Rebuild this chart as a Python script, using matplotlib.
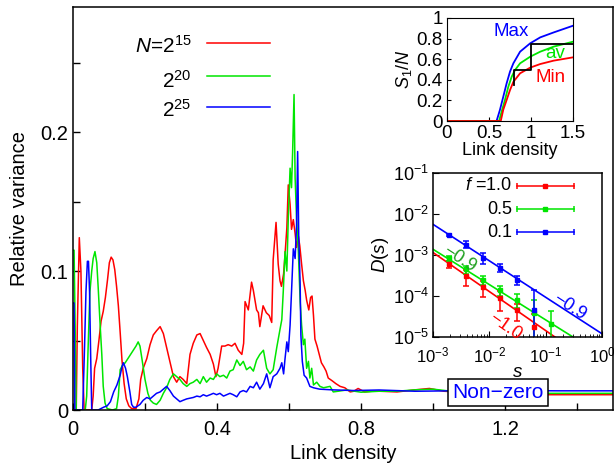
import numpy as np
import matplotlib
matplotlib.use('Agg')
import matplotlib.pyplot as plt

plt.rcParams['font.family'] = ['Liberation Sans', 'DejaVu Sans']
plt.rcParams['mathtext.fontset'] = 'custom'
plt.rcParams['mathtext.rm'] = 'Liberation Sans'
plt.rcParams['mathtext.it'] = 'Liberation Sans:italic'
plt.rcParams['mathtext.bf'] = 'Liberation Sans:bold'

RED = '#ff0000'
GREEN = '#00e600'
BLUE = '#0000ff'

# ---- main panel: relative variance vs link density ----
red_x = [0.000, 0.009, 0.012, 0.0175, 0.022, 0.027, 0.031, 0.052, 0.056, 0.060,
         0.066, 0.072, 0.078, 0.084, 0.090, 0.096, 0.101, 0.106, 0.111, 0.116,
         0.121, 0.126, 0.131, 0.136, 0.142, 0.148, 0.155, 0.163, 0.175, 0.183,
         0.188, 0.195, 0.205, 0.214, 0.223, 0.232, 0.242, 0.251, 0.260, 0.269,
         0.279, 0.288, 0.297, 0.306, 0.316, 0.325, 0.334, 0.344, 0.353, 0.362,
         0.371, 0.381, 0.390, 0.397, 0.403, 0.413, 0.422, 0.431, 0.441, 0.450,
         0.459, 0.469, 0.474, 0.478, 0.487, 0.496, 0.501, 0.510, 0.515, 0.519,
         0.528, 0.537, 0.545, 0.552, 0.556, 0.564, 0.570, 0.575, 0.579, 0.585,
         0.589, 0.594, 0.598, 0.603, 0.607, 0.612, 0.617, 0.621, 0.626, 0.630,
         0.635, 0.640, 0.645, 0.649, 0.655, 0.660, 0.664, 0.668, 0.672, 0.678,
         0.684, 0.690, 0.697, 0.703, 0.709, 0.720, 0.730, 0.742, 0.755, 0.770,
         0.780, 0.792, 0.810, 0.830, 0.853, 0.900, 0.950, 0.990, 1.030, 1.100,
         1.200, 1.300, 1.400, 1.500]
red_y = [0.000, 0.000, 0.060, 0.124, 0.100, 0.030, 0.000, 0.000, 0.010, 0.030,
         0.037, 0.050, 0.064, 0.071, 0.081, 0.094, 0.106, 0.110, 0.108, 0.101,
         0.089, 0.075, 0.056, 0.036, 0.019, 0.008, 0.003, 0.001, 0.001, 0.008,
         0.022, 0.030, 0.037, 0.047, 0.054, 0.057, 0.060, 0.055, 0.045, 0.035,
         0.024, 0.020, 0.024, 0.022, 0.019, 0.040, 0.048, 0.054, 0.055, 0.050,
         0.045, 0.040, 0.033, 0.024, 0.030, 0.046, 0.046, 0.047, 0.046, 0.048,
         0.043, 0.040, 0.048, 0.078, 0.072, 0.092, 0.086, 0.072, 0.070, 0.060,
         0.075, 0.070, 0.068, 0.063, 0.108, 0.135, 0.105, 0.093, 0.089, 0.098,
         0.112, 0.131, 0.162, 0.148, 0.130, 0.137, 0.127, 0.117, 0.125, 0.118,
         0.105, 0.093, 0.086, 0.079, 0.072, 0.081, 0.082, 0.068, 0.051, 0.046,
         0.040, 0.034, 0.031, 0.028, 0.023, 0.021, 0.019, 0.017, 0.016, 0.013,
         0.0135, 0.0155, 0.013, 0.0135, 0.0135, 0.013, 0.0145, 0.0155, 0.0135, 0.0125,
         0.0115, 0.011, 0.011, 0.011]

green_x = [0.000, 0.003, 0.006, 0.009, 0.034, 0.038, 0.042, 0.047, 0.052, 0.056,
           0.061, 0.066, 0.070, 0.075, 0.080, 0.084, 0.089, 0.095, 0.110, 0.121,
           0.126, 0.131, 0.137, 0.145, 0.155, 0.165, 0.175, 0.181, 0.186, 0.192,
           0.200, 0.208, 0.215, 0.223, 0.232, 0.242, 0.251, 0.260, 0.269, 0.279,
           0.288, 0.297, 0.306, 0.316, 0.325, 0.334, 0.344, 0.353, 0.362, 0.371,
           0.381, 0.390, 0.399, 0.408, 0.418, 0.427, 0.436, 0.445, 0.455, 0.464,
           0.473, 0.482, 0.492, 0.501, 0.510, 0.519, 0.529, 0.538, 0.547, 0.556,
           0.566, 0.575, 0.580, 0.584, 0.589, 0.594, 0.598, 0.603, 0.607, 0.610,
           0.614, 0.617, 0.621, 0.626, 0.631, 0.635, 0.640, 0.644, 0.649, 0.654,
           0.658, 0.663, 0.668, 0.677, 0.686, 0.696, 0.714, 0.723, 0.760, 0.800,
           0.850, 0.900, 0.950, 1.000, 1.050, 1.100, 1.200, 1.300, 1.400, 1.500]
green_y = [0.115, 0.115, 0.060, 0.000, 0.000, 0.010, 0.045, 0.085, 0.100, 0.109,
           0.114, 0.106, 0.088, 0.063, 0.040, 0.017, 0.005, 0.001, 0.000, 0.001,
           0.010, 0.029, 0.032, 0.034, 0.038, 0.042, 0.046, 0.049, 0.046, 0.036,
           0.022, 0.012, 0.007, 0.005, 0.004, 0.007, 0.012, 0.016, 0.022, 0.026,
           0.024, 0.022, 0.019, 0.017, 0.019, 0.020, 0.022, 0.019, 0.024, 0.020,
           0.023, 0.022, 0.026, 0.024, 0.025, 0.023, 0.028, 0.029, 0.036, 0.032,
           0.035, 0.029, 0.031, 0.028, 0.036, 0.040, 0.043, 0.030, 0.026, 0.029,
           0.045, 0.058, 0.065, 0.085, 0.114, 0.100, 0.138, 0.174, 0.160, 0.185,
           0.227, 0.167, 0.138, 0.114, 0.078, 0.061, 0.047, 0.051, 0.030, 0.035,
           0.023, 0.030, 0.018, 0.020, 0.017, 0.016, 0.017, 0.013, 0.0144, 0.0128,
           0.0135, 0.0135, 0.0145, 0.015, 0.0135, 0.013, 0.0125, 0.012, 0.012, 0.012]

blue_x = [0.000, 0.003, 0.005, 0.027, 0.032, 0.036, 0.040, 0.043, 0.046, 0.049,
          0.052, 0.070, 0.085, 0.095, 0.104, 0.113, 0.122, 0.131, 0.136, 0.140,
          0.146, 0.151, 0.158, 0.163, 0.168, 0.175, 0.186, 0.195, 0.205, 0.214,
          0.223, 0.232, 0.242, 0.251, 0.260, 0.269, 0.279, 0.288, 0.297, 0.306,
          0.316, 0.325, 0.334, 0.344, 0.353, 0.362, 0.371, 0.381, 0.390, 0.399,
          0.408, 0.418, 0.427, 0.436, 0.445, 0.455, 0.464, 0.473, 0.482, 0.492,
          0.501, 0.510, 0.519, 0.529, 0.538, 0.547, 0.556, 0.566, 0.575, 0.580,
          0.585, 0.589, 0.594, 0.598, 0.603, 0.607, 0.612, 0.617, 0.621, 0.624,
          0.627, 0.631, 0.633, 0.637, 0.642, 0.649, 0.658, 0.668, 0.685, 0.720,
          0.780, 0.850, 0.950, 1.050, 1.200, 1.350, 1.500]
blue_y = [0.077, 0.077, 0.000, 0.000, 0.045, 0.085, 0.107, 0.107, 0.085, 0.040,
          0.000, 0.000, 0.002, 0.003, 0.006, 0.013, 0.018, 0.025, 0.031, 0.034,
          0.030, 0.024, 0.013, 0.004, 0.002, 0.002, 0.004, 0.007, 0.009, 0.008,
          0.010, 0.012, 0.013, 0.015, 0.017, 0.014, 0.010, 0.008, 0.006, 0.007,
          0.008, 0.0085, 0.009, 0.010, 0.0095, 0.011, 0.010, 0.011, 0.012, 0.011,
          0.012, 0.010, 0.011, 0.012, 0.011, 0.0095, 0.013, 0.014, 0.013, 0.017,
          0.016, 0.020, 0.015, 0.019, 0.026, 0.016, 0.024, 0.026, 0.030, 0.034,
          0.026, 0.037, 0.049, 0.042, 0.061, 0.085, 0.116, 0.109, 0.133, 0.186,
          0.126, 0.090, 0.054, 0.035, 0.025, 0.023, 0.017, 0.016, 0.015, 0.0145,
          0.014, 0.0144, 0.0135, 0.0138, 0.014, 0.0138, 0.0138]

legend_labels = ['$N$=2$^{15}$', '2$^{20}$', '2$^{25}$']

# ---- inset 1: largest cluster fraction ----
s1_max_x = [0.0, 0.59, 0.63, 0.67, 0.71, 0.75, 0.79, 0.87, 0.99, 1.11, 1.27, 1.50]
s1_max_y = [0.0, 0.0, 0.107, 0.236, 0.366, 0.479, 0.56, 0.673, 0.754, 0.812, 0.86, 0.925]
s1_av_x = [0.0, 0.62, 0.65, 0.69, 0.73, 0.77, 0.81, 0.87, 0.99, 1.11, 1.27, 1.50]
s1_av_y = [0.0, 0.0, 0.09, 0.204, 0.333, 0.43, 0.495, 0.56, 0.624, 0.673, 0.722, 0.77]
s1_min_x = [0.0, 0.64, 0.67, 0.71, 0.75, 0.79, 0.87, 0.99, 1.11, 1.27, 1.50]
s1_min_y = [0.0, 0.0, 0.11, 0.204, 0.30, 0.38, 0.463, 0.518, 0.553, 0.586, 0.618]
stair_x = [0.8, 0.8, 1.0, 1.0, 1.5]
stair_y = [0.35, 0.5, 0.5, 0.75, 0.75]

# ---- inset 2: D(s) ----
s_vals = [0.00195, 0.0039, 0.0078, 0.0156, 0.03125, 0.0625, 0.125]
d_f10 = [6.0e-4, 3.0e-4, 1.65e-4, 8.8e-5, 4.5e-5, 1.8e-5]
e_f10 = [1.2e-4, 1.2e-4, 7.0e-5, 4.5e-5, 2.0e-5, 1.8e-5]
d_f05 = [8.3e-4, 4.5e-4, 2.45e-4, 1.4e-4, 8.0e-5, 3.9e-5, 2.1e-5]
e_f05 = [1.0e-4, 1.0e-4, 6.0e-5, 4.0e-5, 3.0e-5, 3.9e-5, 2.1e-5]
d_f01 = [3.1e-3, 1.8e-3, 8.5e-4, 4.9e-4, 2.45e-4, 4.5e-5]
e_f01 = [2.0e-4, 3.5e-4, 2.5e-4, 1.0e-4, 6.0e-5, 9.5e-5]
fit_s = [1e-3, 1.0]
fit_f10 = [1.15e-3, 1.6e-6]
fit_f05 = [1.38e-3, 3.6e-6]
fit_f01 = [5.6e-3, 1.2e-5]
f_labels = ['$f$ =1.0', '0.5', '0.1']

fig = plt.figure(figsize=(6.14, 4.72), dpi=100)

ax = fig.add_axes([73 / 614, 62 / 472, 540 / 614, 403 / 472])
ax.plot(red_x, red_y, color=RED, lw=1.1)
ax.plot(green_x, green_y, color=GREEN, lw=1.1)
ax.plot(blue_x, blue_y, color=BLUE, lw=1.1)
ax.set_xlim(0, 1.5)
ax.set_ylim(0, 0.29)
ax.set_xticks([0, 0.4, 0.8, 1.2])
ax.set_xticklabels(['0', '0.4', '0.8', '1.2'])
ax.set_xticks([0.2, 0.6, 1.0, 1.4], minor=True)
ax.set_yticks([0, 0.1, 0.2])
ax.set_yticklabels(['0', '0.1', '0.2'])
ax.set_yticks([0.05, 0.15, 0.25], minor=True)
ax.tick_params(which='both', direction='in', length=5, width=1, labelsize=14.5)
ax.tick_params(axis='x', pad=7)
ax.set_xlabel('Link density', fontsize=14.5, labelpad=4)
ax.set_ylabel('Relative variance', fontsize=14.5, labelpad=8)
for sp in ax.spines.values():
    sp.set_linewidth(1.1)

# legend, text right-aligned in front of the line sample
for lab, col, ty, ly in zip(legend_labels, [RED, GREEN, BLUE],
                            [0.886, 0.800, 0.728], [0.911, 0.829, 0.752]):
    ax.text(0.220, ty, lab, transform=ax.transAxes, ha='right', va='baseline',
            fontsize=15)
    ax.plot([0.248, 0.365], [ly, ly], transform=ax.transAxes, color=col, lw=1.1)

ax.text(1.18, 0.0128, 'Non\u2212zero', color=BLUE, fontsize=15, ha='center',
        va='center', zorder=10,
        bbox=dict(boxstyle='square,pad=0.2', fc='white', ec='black', lw=1.1))

# inset 1
ax1 = fig.add_axes([447 / 614, 351 / 472, 126 / 614, 103 / 472])
ax1.plot(s1_max_x, s1_max_y, color=BLUE, lw=1.3)
ax1.plot(s1_av_x, s1_av_y, color=GREEN, lw=1.3)
ax1.plot(s1_min_x, s1_min_y, color=RED, lw=1.3)
ax1.plot(stair_x, stair_y, color='black', lw=1.3)
ax1.set_xlim(0, 1.5)
ax1.set_ylim(0, 1)
ax1.set_xticks([0, 0.5, 1, 1.5])
ax1.set_xticklabels(['0', '0.5', '1', '1.5'])
ax1.set_yticks([0, 0.2, 0.4, 0.6, 0.8, 1])
ax1.set_yticklabels(['0', '0.2', '0.4', '0.6', '0.8', '1'])
ax1.tick_params(direction='in', length=3, labelsize=13.5, pad=3)
ax1.set_xlabel('Link density', fontsize=13, labelpad=0)
ax1.set_ylabel('$S_1/N$', fontsize=13, labelpad=2)
ax1.text(0.77, 0.867, 'Max', color=BLUE, fontsize=13.5, ha='center', va='center')
ax1.text(1.29, 0.657, 'av', color=GREEN, fontsize=13.5, ha='center', va='center')
ax1.text(1.23, 0.424, 'Min', color=RED, fontsize=13.5, ha='center', va='center')

# inset 2
ax2 = fig.add_axes([433 / 614, 135 / 472, 169 / 614, 164 / 472])
ax2.set_xscale('log')
ax2.set_yscale('log')
ax2.plot(fit_s, fit_f10, color=RED, lw=1.2)
ax2.plot(fit_s, fit_f05, color=GREEN, lw=1.2)
ax2.plot(fit_s, fit_f01, color=BLUE, lw=1.2)
ekw = dict(fmt='s', ms=2.5, elinewidth=1.1, capsize=2, capthick=1.1)
ax2.errorbar(s_vals[:len(d_f10)], d_f10, yerr=e_f10, color=RED, **ekw)
ax2.errorbar(s_vals[:len(d_f05)], d_f05, yerr=e_f05, color=GREEN, **ekw)
ax2.errorbar(s_vals[:len(d_f01)], d_f01, yerr=e_f01, color=BLUE, **ekw)
ax2.set_xlim(1e-3, 1)
ax2.set_ylim(1e-5, 1e-1)
ax2.set_xticks([1e-3, 1e-2, 1e-1, 1])
ax2.set_yticks([1e-5, 1e-4, 1e-3, 1e-2, 1e-1])
ax2.tick_params(which='major', direction='in', length=4, labelsize=13, pad=3)
ax2.tick_params(axis='x', which='major', pad=6, labelsize=12)
ax2.tick_params(which='minor', direction='in', length=2)
ax2.set_xlabel('$s$', fontsize=13.5, labelpad=-1)
ax2.set_ylabel('$D(s)$', fontsize=13.5, labelpad=1)
for sp in ax2.spines.values():
    sp.set_linewidth(1.1)

for lab, col, ly in zip(f_labels, [RED, GREEN, BLUE], [0.921, 0.780, 0.640]):
    ax2.text(0.466, ly, lab, transform=ax2.transAxes, ha='right', va='center',
             fontsize=13)
    ax2.plot([0.495, 0.834], [ly, ly], transform=ax2.transAxes, color=col, lw=1.1)
    ax2.plot([0.665], [ly], 's', ms=2.5, transform=ax2.transAxes, color=col)
    ax2.plot([0.495, 0.834], [ly, ly], '|', ms=5, mew=1.1,
             transform=ax2.transAxes, color=col)

ax2.text(2.9e-3, 7.9e-4, '\u22120.9', color='#20a020', fontsize=13,
         rotation=-33, ha='center', va='center')
ax2.text(0.27, 5.5e-5, '\u22120.9', color=BLUE, fontsize=13,
         rotation=-33, ha='center', va='center')
ax2.text(0.019, 1.78e-5, '\u22121.0', color=RED, fontsize=13,
         rotation=-35, ha='center', va='center')

fig.savefig('out.png', dpi=100)
